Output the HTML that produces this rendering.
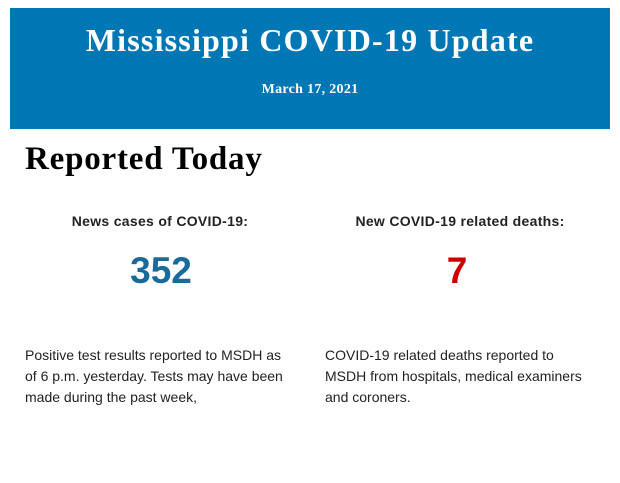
<!DOCTYPE html>
<html><head><meta charset="utf-8"><style>
body{margin:0;background:#fff;width:620px;height:483px;position:relative;overflow:hidden;font-family:"Liberation Sans",sans-serif}
.ban{position:absolute;left:10px;top:8px;width:600px;height:121px;background:#0077b5;color:#fff;text-align:center;font-family:"Liberation Serif",serif;font-weight:bold}
.t{position:absolute;left:0;right:0;top:14px;font-size:32px;line-height:36px;letter-spacing:1.2px}
.d{position:absolute;left:0;right:0;top:74px;font-size:14px;letter-spacing:0.3px}
.h{position:absolute;left:25px;top:141px;font-family:"Liberation Serif",serif;font-weight:bold;font-size:33px;color:#000;letter-spacing:0.8px}
.c{position:absolute;width:300px;text-align:center}
.lab{top:213px;font-size:14px;font-weight:bold;color:#222;letter-spacing:0.3px}
.num{top:250px;font-size:37px;font-weight:bold;line-height:42px}
.p{position:absolute;top:345px;width:266px;font-size:14px;line-height:21px;color:#222}
</style></head><body>
<div class="ban"><div class="t">Mississippi COVID-19 Update</div><div class="d">March 17, 2021</div></div>
<div class="h">Reported Today</div>
<div class="c lab" style="left:10px">News cases of COVID-19:</div>
<div class="c lab" style="left:310px">New COVID-19 related deaths:</div>
<div class="c num" style="left:11px;color:#1a6a9c">352</div>
<div class="c num" style="left:307px;color:#cc0000">7</div>
<div class="p" style="left:25px">Positive test results reported to MSDH as of 6 p.m. yesterday. Tests may have been made during the past week,</div>
<div class="p" style="left:325px;width:268px">COVID-19 related deaths reported to MSDH from hospitals, medical examiners and coroners.</div>
</body></html>
